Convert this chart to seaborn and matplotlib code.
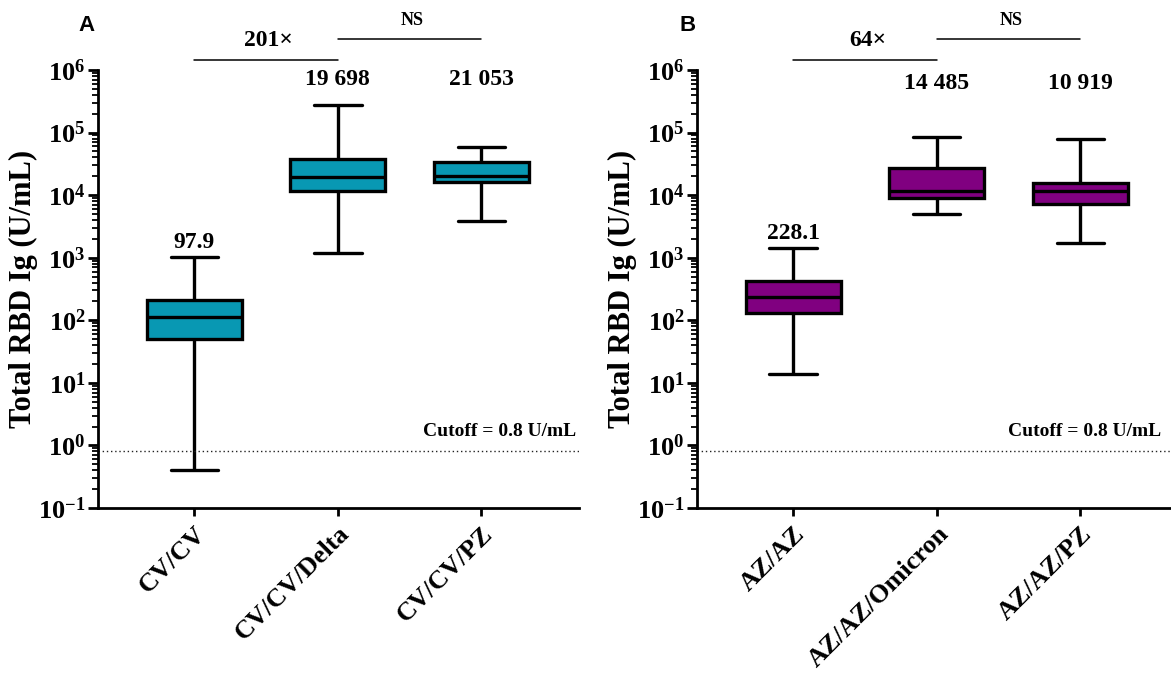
import matplotlib
matplotlib.use('Agg')
import math
import matplotlib.pyplot as plt
import matplotlib.ticker as mticker
import seaborn as sns
import pandas as pd

# panel A values (U/mL)
groups_a = ['CV/CV', 'CV/CV/Delta', 'CV/CV/PZ']
min_a = [0.40, 1190, 3860]
q1_a = [50, 11600, 16200]
med_a = [113, 19500, 20200]
q3_a = [211, 37800, 33800]
max_a = [1020, 276000, 58800]
labels_a = ['97.9', '19 698', '21 053']

# panel B values
groups_b = ['AZ/AZ', 'AZ/AZ/Omicron', 'AZ/AZ/PZ']
min_b = [13.8, 5000, 1720]
q1_b = [131, 9000, 7200]
med_b = [235, 11500, 11600]
q3_b = [425, 27200, 15600]
max_b = [1430, 85000, 79000]
labels_b = ['228.1', '14 485', '10 919']

cutoff = 0.8
fold_a = '201×'
fold_b = '64×'

sns.set_style('ticks')
plt.rcParams['font.family'] = ['Liberation Serif', 'DejaVu Serif']
plt.rcParams['font.weight'] = 'bold'
plt.rcParams['mathtext.fontset'] = 'custom'
plt.rcParams['mathtext.bf'] = 'Liberation Serif:bold'
plt.rcParams['mathtext.rm'] = 'Liberation Serif:bold'
for key in ['text.color', 'axes.labelcolor', 'xtick.color', 'ytick.color', 'axes.edgecolor']:
    plt.rcParams[key] = 'black'


def five_points(groups, mn, q1, med, q3, mx):
    # five values per group -> quartiles of the box fall exactly on them
    rows = []
    for i, g in enumerate(groups):
        for v in [mn[i], q1[i], med[i], q3[i], mx[i]]:
            rows.append({'group': g, 'value': v})
    return pd.DataFrame(rows)


def pow_label(v, pos):
    return r'$\mathbf{10^{%d}}$' % int(round(math.log10(v)))


def draw_panel(ax, groups, mn, q1, med, q3, mx, labels, color, fold, top_label_y, cut_x):
    df = five_points(groups, mn, q1, med, q3, mx)
    sns.boxplot(data=df, x='group', y='value', ax=ax, color=color, saturation=1,
                width=0.66, whis=(0, 100), showfliers=False, linewidth=2.4,
                linecolor='black', log_scale=True)
    ax.set_ylim(0.1, 1e6)
    ax.set_xlim(-0.67, 2.68)
    ax.yaxis.set_major_locator(mticker.LogLocator(base=10, numticks=10))
    ax.yaxis.set_minor_locator(mticker.LogLocator(base=10, subs=range(2, 10), numticks=20))
    ax.yaxis.set_minor_formatter(mticker.NullFormatter())
    ax.yaxis.set_major_formatter(mticker.FuncFormatter(pow_label))
    for s in ['top', 'right']:
        ax.spines[s].set_visible(False)
    for s in ['left', 'bottom']:
        ax.spines[s].set_linewidth(2.0)
    ax.tick_params(axis='y', which='major', length=7, width=2, labelsize=19, pad=2)
    ax.tick_params(axis='y', which='minor', length=4, width=1.3)
    ax.tick_params(axis='x', length=6, width=2, labelsize=19, pad=4)
    plt.setp(ax.get_xticklabels(), rotation=45, ha='right', rotation_mode='anchor',
             fontweight='bold')
    ax.set_xlabel('')
    ax.set_ylabel('Total RBD Ig (U/mL)', fontsize=22, fontweight='bold', labelpad=0)

    # cutoff line
    ax.axhline(cutoff, color='#222222', lw=1.0, ls=(0, (1, 2)))
    ax.text(cut_x, cutoff * 1.55, 'Cutoff = 0.8 U/mL', ha='right', va='bottom',
            fontsize=14, fontweight='bold')

    # value labels
    ax.annotate(labels[0], (0, mx[0]), xytext=(0, 3), textcoords='offset points',
                ha='center', va='bottom', fontsize=17, fontweight='bold')
    for i in [1, 2]:
        ax.text(i, top_label_y, labels[i], ha='center', va='center',
                fontsize=17, fontweight='bold')

    # comparison bars above the axes
    ax.plot([0, 1], [10 ** 6.16] * 2, color='black', lw=1.1, clip_on=False)
    ax.plot([1, 2], [10 ** 6.49] * 2, color='black', lw=1.1, clip_on=False)
    ax.text(0.52, 10 ** 6.47, fold, ha='center', va='center', fontsize=17,
            fontweight='bold', clip_on=False)
    ax.text(1.52, 10 ** 6.79, 'NS', ha='center', va='center', fontsize=13,
            fontweight='bold', clip_on=False)


fig = plt.figure(figsize=(11.71, 6.84), dpi=100)
ax_a = fig.add_axes([0.0837, 0.2573, 0.4108, 0.6404])
ax_b = fig.add_axes([0.5952, 0.2573, 0.4108, 0.6404])

draw_panel(ax_a, groups_a, min_a, q1_a, med_a, q3_a, max_a, labels_a,
           '#0898b3', fold_a, 10 ** 5.84, 2.66)
draw_panel(ax_b, groups_b, min_b, q1_b, med_b, q3_b, max_b, labels_b,
           '#800080', fold_b, 10 ** 5.78, 2.56)

fig.text(0.074, 0.963, 'A', family='Liberation Sans', fontsize=16,
         fontweight='bold', ha='center', va='center')
fig.text(0.5875, 0.963, 'B', family='Liberation Sans', fontsize=16,
         fontweight='bold', ha='center', va='center')

fig.savefig('out.png', dpi=100)
